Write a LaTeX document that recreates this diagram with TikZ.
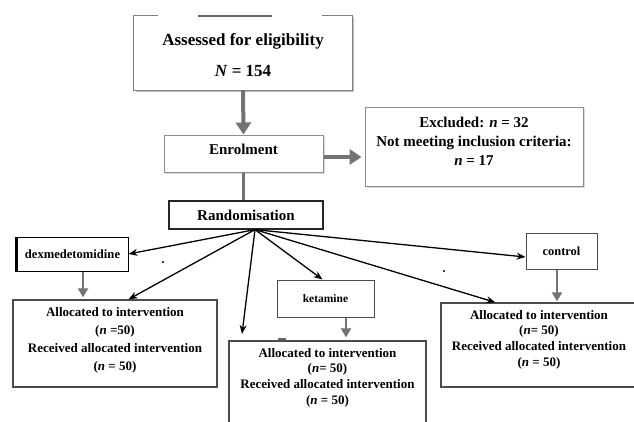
\documentclass[tikz,border=0pt]{standalone}
\usepackage{fontspec}
\setmainfont{Liberation Serif}
\usetikzlibrary{arrows.meta,shadows}

\begin{document}
\begin{tikzpicture}[x=1pt,y=-1pt,
    frame/.style={draw=#1, fill=white, line width=1pt, inner sep=0pt},
    frame/.default=black!70,
    soft/.style={frame=black!45, drop shadow={shadow xshift=1.5pt, shadow yshift=-1.5pt, fill=black!30}},
    txt/.style={font=\bfseries\fontsize{#1}{#1}\selectfont, align=center, inner sep=0pt},
    bigarrow/.style={draw=black!55, line width=4pt, -{Triangle[length=12pt,width=15pt]}},
    smallarrow/.style={draw=black!55, line width=2.5pt, -{Triangle[length=9pt,width=10pt]}},
    randarrow/.style={line width=1.3pt, -{Stealth[length=9pt,width=7pt]}}]
        \useasboundingbox (0,0) rectangle (634,421);
        \fill[white] (0,0) rectangle (634,421);

        % Screening
        \node[inner sep=0pt, minimum width=218, minimum height=75,
              label={[txt=17, yshift=-2.5pt]center:{Assessed for eligibility\\[14pt]\textit{N} = 154}}] (assess) at (243,52.5) {};
        \draw[black!25, line width=1.5pt] (136,91.5) -- (353.5,91.5) -- (353.5,17);
        \draw[black!50, line width=1pt] (158,15) -| (assess.south west) -- (assess.south east) |- (322,15);
        \draw[black!60, line width=2pt] (198,16) -- (272,16);

        \node[soft, minimum width=159, minimum height=37,
              label={[txt=15, yshift=4pt]center:Enrolment}] (enrol) at (243.5,153.5) {};
        \node[soft, minimum width=218, minimum height=79,
              label={[txt=15, yshift=5.5pt]center:{Excluded: \textit{n} = 32\\[4pt]Not meeting inclusion criteria:\\[4pt]\textit{n} = 17}}] (excl) at (474,146.5) {};
        \node[frame=black!85, line width=1.2pt, minimum width=154, minimum height=28, font=\bfseries\fontsize{15}{15}\selectfont] (rand) at (246,215) {Randomisation};

        \draw[bigarrow] (assess.south) -- (enrol.north);
        \draw[bigarrow, shorten >=3pt] ([yshift=-3.5pt]enrol.east) -- ([yshift=-3.5pt]enrol.east -| excl.west);
        \draw[black!55, line width=3pt] (enrol.south) -- (enrol.south |- rand.north);

        % Groups
        \node[frame=black, minimum width=111, minimum height=34, font=\bfseries\fontsize{12.6}{12.6}\selectfont] (dex) at (72.5,254) {dexmedetomidine};
        \draw[line width=3pt] (dex.north west) -- (dex.south west);
        \node[frame, minimum width=97, minimum height=37, font=\bfseries\fontsize{11.5}{11.5}\selectfont] (ket) at (325.5,298.5) {ketamine};
        \node[frame, minimum width=71, minimum height=36, font=\bfseries\fontsize{12.4}{12.4}\selectfont] (ctrl) at (561.5,251) {control};

        % Allocation
        \node[frame, line width=1.3pt, minimum width=204, minimum height=87,
              label={[txt=13, yshift=3.5pt]center:{Allocated to intervention\\[5pt](\textit{n} =50)\\[5pt]Received allocated intervention\\[5pt](\textit{n} = 50)}}] (allocL) at (115,343.5) {};
        \node[frame, line width=1.3pt, minimum width=197, minimum height=89,
              label={[txt=13, yshift=8pt]center:{Allocated to intervention\\[2.7pt](\textit{n}= 50)\\[2.7pt]Received allocated intervention\\[2.7pt](\textit{n} = 50)}}] (allocM) at (327.5,385.5) {};
        \node[frame, line width=1.3pt, minimum width=199, minimum height=84,
              label={[txt=13, yshift=5.5pt, xshift=-1.5pt]center:{Allocated to intervention\\[2.7pt](\textit{n}= 50)\\[2.7pt]Received allocated intervention\\[2.7pt](\textit{n} = 50)}}] (allocR) at (540.5,345) {};

        % Randomisation arrows
        \coordinate (hub) at ([xshift=9pt]rand.south);
        \coordinate (gap) at (242,334);
        \draw[randarrow] (hub) -- (dex.east);
        \draw[randarrow] (hub) -- (dex.east |- allocL.north);
        \draw[randarrow] (hub) -- (gap);
        \draw[randarrow] (hub) -- ([xshift=-3pt]ket.north);
        \draw[randarrow] (hub) -- ([xshift=55pt]allocR.north west);
        \draw[randarrow] (hub) -- ([yshift=-6pt]ctrl.west);

        \draw[smallarrow, shorten >=2pt] ([xshift=10.5pt]dex.south) -- ([xshift=10.5pt]dex.south |- allocL.north);
        \draw[smallarrow, shorten >=3pt] ([xshift=20.5pt]ket.south) -- ([xshift=20.5pt]ket.south |- allocM.north);
        \draw[smallarrow, shorten >=1pt] ([xshift=-4.5pt]ctrl.south) -- ([xshift=-4.5pt]ctrl.south |- allocR.north);

        % Stray marks
        \fill (163,262) circle (1.2);
        \fill (444,271) circle (1.2);
        \draw[black!60, line width=1.5pt] (278,339) -- (286,339);
\end{tikzpicture}
\end{document}
